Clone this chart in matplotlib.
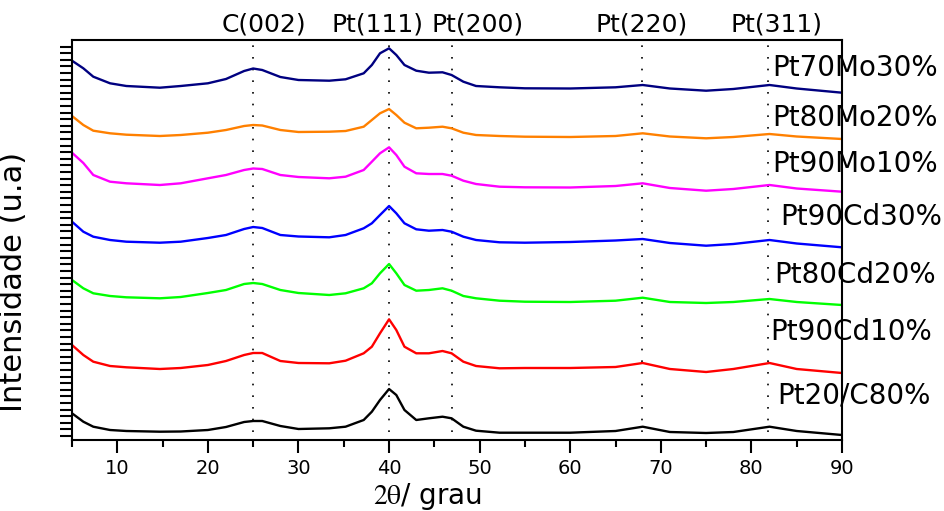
import numpy as np
import matplotlib
matplotlib.use('Agg')
import matplotlib.pyplot as plt

plt.rcParams['mathtext.fontset'] = 'stix'

# 2theta positions (degrees)
two_theta = [5, 6.25, 7.35, 9.2, 11, 14.7, 17, 20, 22, 24, 25, 26, 28, 30, 33.4, 35.2, 37.2, 38.1, 39, 40,
             40.8, 41.7, 43, 44.4, 45.9, 46.9, 48.2, 49.6, 52.2, 55, 60, 65, 68, 71, 75, 78, 82, 85, 90]

# stacked intensities (arbitrary units, already offset as in the figure)
pt20_c80 = [26.7, 18.3, 13.3, 10, 9, 8.3, 8.5, 10, 13, 18, 19, 19, 14, 11, 11.7, 13.3, 20, 28.3, 40, 51,
            45, 30, 20, 21.7, 23.3, 21.7, 13.3, 9.3, 7.3, 7.3, 7.3, 9, 13.3, 8, 7, 8, 13.3, 9, 5]
pt90_cd10 = [95, 85, 78.3, 74, 72.7, 71, 72, 75, 79, 85, 87, 87, 79, 77, 76.7, 79.3, 86.7, 93.3, 106.7, 120.7,
             110, 93.3, 86.7, 86.7, 89, 86.7, 78.3, 74, 71.7, 72, 72, 73, 77, 71, 68, 71, 77, 71, 67]
pt80_cd20 = [160, 151.7, 146.7, 144, 142.7, 141.7, 143, 147, 150, 156, 157, 156, 150, 147, 145, 146.7, 151.7, 156.7, 166.7, 176,
             166.7, 155, 149.3, 150, 151.7, 149.3, 144, 141.7, 139.3, 138.3, 138, 139.3, 142.3, 138, 137, 138, 141, 138, 135]
pt90_cd30 = [218.3, 208.3, 203.3, 200, 198.3, 197.3, 198.3, 202, 205, 211, 213, 212, 205, 203.5, 202.7, 205, 211.7, 216.7, 225, 234,
             226.7, 216.7, 210.7, 209.3, 210, 208.3, 203.3, 200, 197.7, 197.3, 198, 199.5, 201, 197, 194.3, 196, 200, 196.5, 192.7]
pt90_mo10 = [287.3, 277, 265, 258.3, 256.7, 255, 256.7, 261.7, 265, 270, 271.5, 271, 265, 263, 261.7, 263.3, 270, 278.3, 286.7, 292.7,
             285, 273.3, 266.7, 266, 266, 264.3, 259.3, 256, 253.3, 252.7, 252.5, 254, 256.7, 252, 249.3, 251, 255, 251.5, 248.3]
pt80_mo20 = [324, 315, 309.3, 306.7, 305.3, 304, 305, 307.3, 310, 314, 315, 314.5, 310, 308, 308.3, 309, 313.3, 320, 326.7, 331,
             325, 317.3, 311.7, 312.3, 313.3, 311.7, 307.3, 305, 304, 303.3, 303, 304, 306.7, 303.5, 301.7, 303, 306, 303.5, 301]
pt70_mo30 = [379.3, 371.7, 363.3, 356.7, 354, 352.3, 354, 356.7, 361, 369, 371.5, 370, 363, 360, 359.3, 360.7, 366.7, 375, 386.7, 391.7,
             385, 375, 369.3, 367.3, 367.7, 365, 358.3, 354, 352.7, 351.7, 351.5, 352.7, 355, 351.5, 349.3, 351, 355, 351.5, 347.3]

series = [pt20_c80, pt90_cd10, pt80_cd20, pt90_cd30, pt90_mo10, pt80_mo20, pt70_mo30]
labels = ['Pt20/C80%', 'Pt90Cd10%', 'Pt80Cd20%', 'Pt90Cd30%', 'Pt90Mo10%', 'Pt80Mo20%', 'Pt70Mo30%']
colors = ['black', '#ff0000', '#00ff00', '#0000ff', '#ff00ff', '#ff8000', '#000080']
# label anchor (left x in degrees, y in intensity units)
label_x = [82.8, 82.1, 82.5, 83.2, 82.3, 82.3, 82.3]
label_y = [45, 108, 165, 223, 276, 322.5, 372]

# reflections
peak_pos = [25.0, 40.0, 46.9, 67.9, 81.85]
peak_names = ['C(002)', 'Pt(111)', 'Pt(200)', 'Pt(220)', 'Pt(311)']
peak_label_x = [26.2, 38.7, 49.8, 67.9, 82.8]

fig = plt.figure(figsize=(9.44, 5.11), dpi=100)
ax = fig.add_axes([72 / 944, 1 - 440 / 511, 770 / 944, 400 / 511])

for pos in peak_pos:
    ax.axvline(pos, ymin=0.02, ymax=0.99, color='black', linestyle=(0, (1, 6)), linewidth=1.2, zorder=1)

for y, c in zip(series, colors):
    ax.plot(two_theta, y, color=c, linewidth=1.7, zorder=2)

for lx, ly, lab in zip(label_x, label_y, labels):
    ax.text(lx, ly, lab, fontsize=20, ha='left', va='center', zorder=5, clip_on=False)

for lx, name in zip(peak_label_x, peak_names):
    ax.text(lx, 1.0375, name, fontsize=18, ha='center', va='center',
            transform=ax.get_xaxis_transform())

ax.set_xlim(5, 90)
ax.set_ylim(0, 400)
ax.set_xticks([10, 20, 30, 40, 50, 60, 70, 80, 90])
ax.set_xticks(np.arange(5, 90, 10), minor=True)
ax.set_yticks(np.arange(4, 400, 6.6))
ax.set_yticklabels([])
ax.tick_params(axis='x', which='major', direction='out', length=9, width=1.5, labelsize=14, pad=5)
ax.tick_params(axis='x', which='minor', direction='out', length=5, width=1.5)
ax.tick_params(axis='y', which='major', direction='out', length=9, width=1.5)
for sp in ax.spines.values():
    sp.set_linewidth(1.5)

ax.set_ylabel('Intensidade (u.a)', fontsize=22)
ax.yaxis.set_label_coords(-0.057, 0.395)
fig.text(427.5 / 944, 0.028, r'$\mathrm{2\theta}$/ grau', fontsize=20, ha='center', va='center')

fig.savefig('out.png', dpi=100)
